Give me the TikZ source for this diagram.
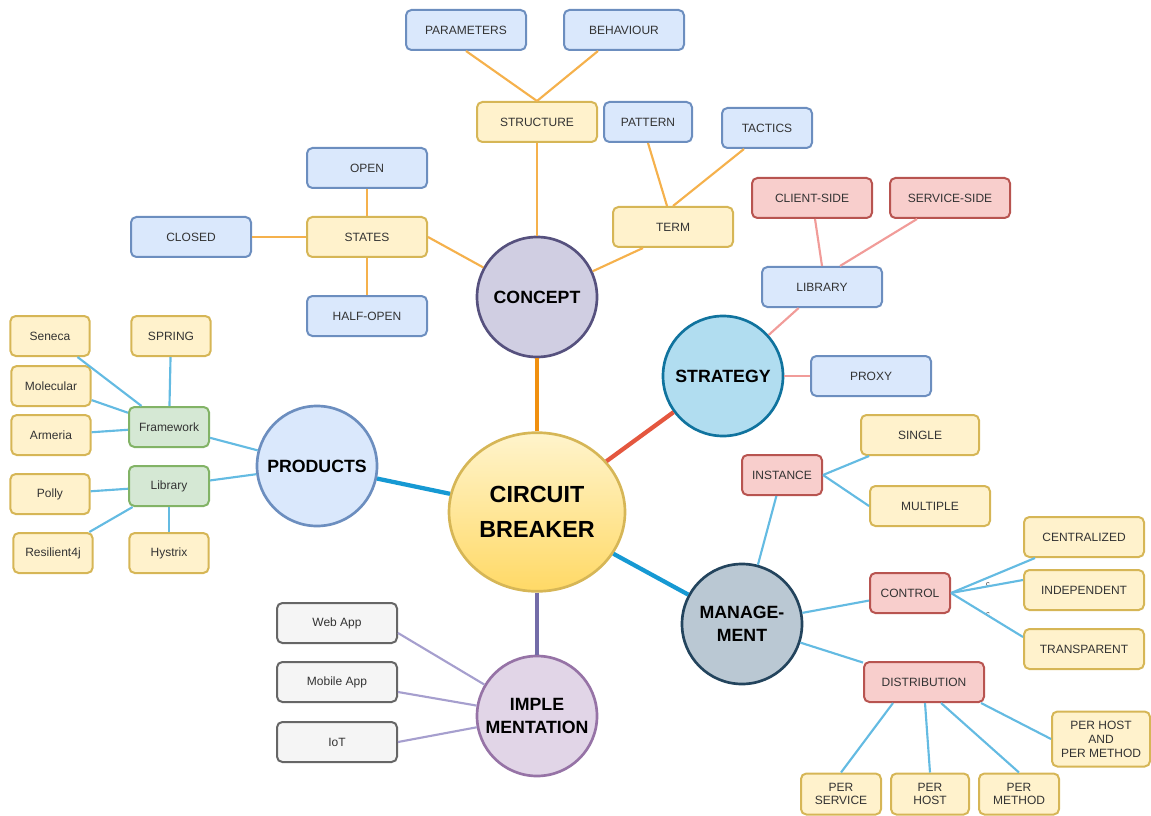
\documentclass[tikz,border=0pt]{standalone}
\usepackage{fontspec}
\setmainfont{Liberation Sans}
\usetikzlibrary{shapes.geometric,calc}
\definecolor{bluefill}{HTML}{DAE8FC}\definecolor{bluedraw}{HTML}{6C8EBF}
\definecolor{yelfill}{HTML}{FFF2CC}\definecolor{yeldraw}{HTML}{D6B656}
\definecolor{redfill}{HTML}{F8CECC}\definecolor{reddraw}{HTML}{B85450}
\definecolor{grnfill}{HTML}{D5E8D4}\definecolor{grndraw}{HTML}{82B366}
\definecolor{gryfill}{HTML}{F5F5F5}\definecolor{grydraw}{HTML}{666666}
\definecolor{txt}{HTML}{333333}
\definecolor{conceptfill}{HTML}{D0CEE2}\definecolor{conceptdraw}{HTML}{56517E}
\definecolor{stratfill}{HTML}{B1DDF0}\definecolor{stratdraw}{HTML}{10739E}
\definecolor{mgmtfill}{HTML}{BAC8D3}\definecolor{mgmtdraw}{HTML}{23445D}
\definecolor{implfill}{HTML}{E1D5E7}\definecolor{impldraw}{HTML}{9673A6}
\definecolor{cbtop}{HTML}{FFF4CC}\definecolor{cbbot}{HTML}{FFD966}\definecolor{cbdraw}{HTML}{D6B656}
\definecolor{orangeM}{HTML}{F0900F}\definecolor{redM}{HTML}{E4573F}
\definecolor{blueM}{HTML}{1699D3}\definecolor{purpleM}{HTML}{736CA8}
\definecolor{orangeB}{HTML}{F5B14C}\definecolor{redB}{HTML}{F19C99}
\definecolor{blueB}{HTML}{64BBE2}\definecolor{purpleB}{HTML}{A69FCE}
\begin{document}
\begin{tikzpicture}[x=0.75pt,y=-0.75pt,
  box/.style={rectangle, rounded corners=4pt, line width=1.5pt, inner sep=1pt,
    minimum height=30pt, minimum width=90pt, text=txt, align=center,
    font=\fontsize{9}{10.5}\selectfont},
  bluebox/.style={box, fill=bluefill, draw=bluedraw},
  yelbox/.style={box, fill=yelfill, draw=yeldraw},
  redbox/.style={box, fill=redfill, draw=reddraw},
  grnbox/.style={box, fill=grnfill, draw=grndraw, minimum width=60pt},
  grybox/.style={box, fill=gryfill, draw=grydraw},
  smallbox/.style={yelbox, minimum width=59.5pt},
  hub/.style={circle, minimum size=90pt, inner sep=0pt, line width=2pt, align=center,
    font=\bfseries\fontsize{13.3}{17}\selectfont, text=black},
  mainline/.style={line width=3.2pt},
  branch/.style={line width=1.6pt},
  tiny/.style={font=\fontsize{5.5}{5.5}\selectfont, text=txt, inner sep=0pt}
]
\useasboundingbox (0,0) rectangle (1151,816);

% ---------- central ----------
\node[ellipse, minimum width=132pt, minimum height=119pt, inner sep=0pt, line width=2pt,
  draw=cbdraw, top color=cbtop, bottom color=cbbot, align=center, text=black,
  font=\bfseries\fontsize{17.5}{26}\selectfont] (cb) at (537,512) {CIRCUIT\\BREAKER};

% ---------- concept ----------
\node[hub, fill=conceptfill, draw=conceptdraw] (concept) at (537,297) {CONCEPT};
\node[bluebox] (params) at (466,30) {PARAMETERS};
\node[bluebox] (behav) at (624,30) {BEHAVIOUR};
\node[yelbox] (structure) at (537,122) {STRUCTURE};
\node[bluebox, minimum width=66pt] (pattern) at (648,122) {PATTERN};
\node[bluebox, minimum width=67.5pt] (tactics) at (767,128) {TACTICS};
\node[yelbox] (term) at (673,227) {TERM};
\node[bluebox] (open) at (367,168) {OPEN};
\node[yelbox] (states) at (367,237) {STATES};
\node[bluebox] (closed) at (191,237) {CLOSED};
\node[bluebox] (halfopen) at (367,316) {HALF-OPEN};

% ---------- strategy ----------
\node[hub, fill=stratfill, draw=stratdraw] (strategy) at (723,376) {STRATEGY};
\node[redbox] (client) at (812,198) {CLIENT-SIDE};
\node[redbox] (service) at (950,198) {SERVICE-SIDE};
\node[bluebox] (library) at (822,287) {LIBRARY};
\node[bluebox] (proxy) at (871,376) {PROXY};

% ---------- management ----------
\node[hub, fill=mgmtfill, draw=mgmtdraw] (mgmt) at (742,624) {MANAGE-\\MENT};
\node[redbox, minimum width=60pt] (instance) at (782,475) {INSTANCE};
\node[yelbox, minimum width=88.5pt] (single) at (920,435) {SINGLE};
\node[yelbox] (multiple) at (930,506) {MULTIPLE};
\node[redbox, minimum width=60pt] (control) at (910,593) {CONTROL};
\node[yelbox] (central) at (1084,537) {CENTRALIZED};
\node[yelbox] (indep) at (1084,590) {INDEPENDENT};
\node[yelbox] (transp) at (1084,649) {TRANSPARENT};
\node[redbox] (distr) at (924,682) {DISTRIBUTION};
\node[yelbox, minimum width=73.5pt, minimum height=41.25pt] (phpm) at (1101,739) {PER HOST\\AND\\PER METHOD};
\node[yelbox, minimum width=60pt, minimum height=30.75pt, font=\fontsize{9}{10}\selectfont] (perservice) at (841,794) {PER\\SERVICE};
\node[yelbox, minimum width=58.5pt, minimum height=30.75pt, font=\fontsize{9}{10}\selectfont] (perhost) at (930,794) {PER\\HOST};
\node[yelbox, minimum width=60pt, minimum height=30.75pt, font=\fontsize{9}{10}\selectfont] (permethod) at (1019,794) {PER\\METHOD};
\node[tiny] (c1) at (988,585) {c};
\node[tiny] (c2) at (988,615) {c};

% ---------- products ----------
\node[hub, fill=bluefill, draw=bluedraw] (products) at (317,466) {PRODUCTS};
\node[grnbox] (framework) at (169,427) {Framework};
\node[grnbox] (lib2) at (169,486) {Library};
\node[smallbox] (seneca) at (50,336) {Seneca};
\node[smallbox] (spring) at (171,336) {SPRING};
\node[smallbox] (molecular) at (51,386) {Molecular};
\node[smallbox] (armeria) at (51,435) {Armeria};
\node[smallbox] (polly) at (50,494) {Polly};
\node[smallbox] (resil) at (53,553) {Resilient4j};
\node[smallbox] (hystrix) at (169,553) {Hystrix};

% ---------- implementation ----------
\node[hub, fill=implfill, draw=impldraw] (impl) at (537,716) {IMPLE\\MENTATION};
\node[grybox] (web) at (337,623) {Web App};
\node[grybox] (mobile) at (337,682) {Mobile App};
\node[grybox] (iot) at (337,742) {IoT};

% ---------- main connectors ----------
\draw[mainline, orangeM] (cb) -- (concept);
\draw[mainline, redM] (cb) -- (strategy);
\draw[mainline, blueM] (cb) -- (products);
\draw[mainline, blueM] (cb) -- (mgmt);
\draw[mainline, purpleM] (cb) -- (impl);

% ---------- concept branches ----------
\begin{scope}[branch, orangeB]
\draw (concept) -- (structure);
\draw (params.south) -- (structure.north);
\draw ($(behav.south)+(-26,0)$) -- (structure.north);
\draw (states.east) -- (concept);
\draw (states) -- (open);
\draw (states) -- (closed);
\draw (states) -- (halfopen);
\draw (concept) -- ($(term.south)+(-30,0)$);
\draw (pattern.south) -- ($(term.north)+(-6,0)$);
\draw ($(tactics.south)+(-23,0)$) -- (term.north);
\end{scope}

% ---------- strategy branches ----------
\begin{scope}[branch, redB]
\draw (strategy) -- (library);
\draw ($(client.south)+(3,0)$) -- (library.north);
\draw ($(service.south)+(-33,0)$) -- ($(library.north)+(18,0)$);
\draw (strategy) -- (proxy);
\end{scope}

% ---------- management branches ----------
\begin{scope}[branch, blueB]
\draw (mgmt) -- (instance);
\draw (instance.east) -- (single);
\draw (instance.east) -- (multiple.west);
\draw (mgmt) -- (control);
\draw (control.east) -- ($(central.south west)+(12,0)$);
\draw (control.east) -- ($(indep.west)+(0,-10)$);
\draw (control.east) -- ($(transp.west)+(0,-12)$);
\draw (mgmt) -- (distr);
\draw ($(distr.south)+(-31,0)$) -- (perservice.north);
\draw ($(distr.south)+(1,0)$) -- (perhost.north);
\draw ($(distr.south)+(17,0)$) -- (permethod.north);
\draw ($(distr.south east)+(-4,0)$) -- (phpm.west);
\end{scope}

% ---------- products branches ----------
\begin{scope}[branch, blueB]
\draw (products) -- (framework);
\draw (products) -- (lib2);
\draw (framework) -- (seneca);
\draw (framework) -- (molecular);
\draw (framework) -- (armeria);
\draw (framework) -- (spring);
\draw (lib2) -- (polly);
\draw (lib2) -- (resil);
\draw (lib2) -- (hystrix);
\end{scope}

% ---------- implementation branches ----------
\begin{scope}[branch, purpleB]
\draw ($(web.east)+(0,10)$) -- (impl);
\draw ($(mobile.east)+(0,10)$) -- (impl);
\draw (iot.east) -- (impl);
\end{scope}
\end{tikzpicture}
\end{document}
